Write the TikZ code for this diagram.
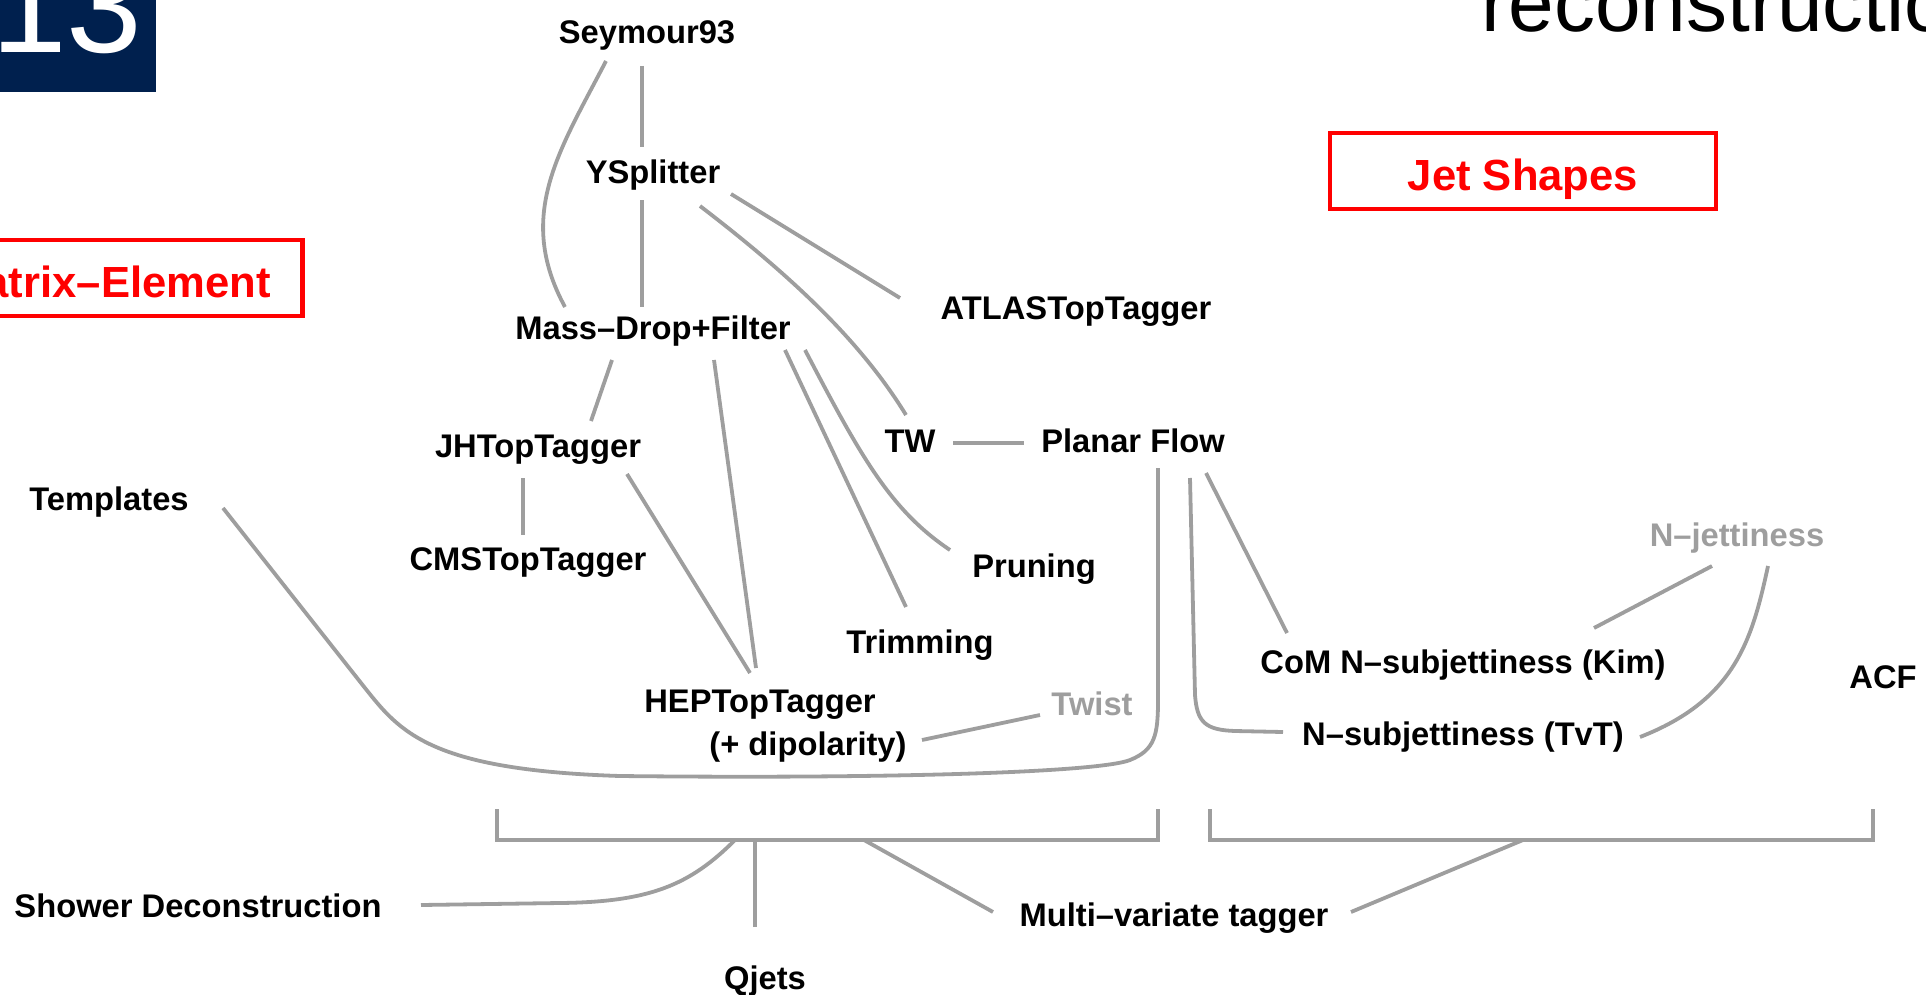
\documentclass[tikz,border=0pt]{standalone}
\usepackage{fontspec}
\setmainfont{Liberation Sans}
\newfontfamily\slidefont{Liberation Sans}
\usepackage{xcolor}
\usepackage{tikz}
\usetikzlibrary{calc}
\definecolor{linkgray}{RGB}{158,158,158}
\definecolor{titlenavy}{RGB}{0,32,78}
\tikzset{
  tag/.style={font=\fontsize{32.7}{39}\selectfont\bfseries, inner sep=4pt, text height=24pt, text depth=8pt},
  faint/.style={tag, text=linkgray},
  cat/.style={rectangle, draw=red, line width=4.5pt, text=red, font=\fontsize{43.6}{52}\selectfont\bfseries, minimum width=386pt, minimum height=76pt, inner sep=0pt, text height=38pt, text depth=0pt},
  link/.style={draw=linkgray, line width=3.8pt}
}

\begin{document}
\begin{tikzpicture}[x=1pt, y=-1pt]
  \useasboundingbox (0,0) rectangle (1926,995);
  \clip (0,0) rectangle (1926,995);
  \fill[titlenavy] (0,0) rectangle (156,92);
  \node[anchor=base west, inner sep=0pt, text=white, font=\slidefont\fontsize{136}{136}\selectfont] (slidenum) at (-9,53) {13};
  \node[anchor=base west, inner sep=0pt, font=\slidefont\fontsize{82}{82}\selectfont] (headline) at (1481,32) {reconstructio};

  \node[cat] (matrix) at (109.5,278) {Matrix--Element};
  \node[cat] (jetshapes) at (1523,171) {Jet Shapes};

  \node[tag] (seymour) at (647,36) {Seymour93};
  \node[tag] (ysplit) at (653,176) {YSplitter};
  \node[tag] (atlas) at (1076,311) {ATLASTopTagger};
  \node[tag] (massdrop) at (653,331) {Mass--Drop+Filter};
  \node[tag] (jh) at (538,449) {JHTopTagger};
  \node[tag] (tw) at (910,444) {TW};
  \node[tag] (planar) at (1133,444) {Planar Flow};
  \node[tag] (templates) at (109,502) {Templates};
  \node[tag] (cms) at (528,562) {CMSTopTagger};
  \node[tag] (pruning) at (1034,569) {Pruning};
  \node[faint] (njet) at (1737,538) {N--jettiness};
  \node[tag] (trimming) at (920,645) {Trimming};
  \node[tag] (com) at (1463,665) {CoM N--subjettiness (Kim)};
  \node[tag] (hep) at (760,704) {HEPTopTagger};
  \node[tag] (dipol) at (808,747) {(+ dipolarity)};
  \node[faint] (twist) at (1092,707) {Twist};
  \node[tag] (tvt) at (1463,737) {N--subjettiness (TvT)};
  \node[tag] (acf) at (1883,680) {ACF};
  \node[tag] (shower) at (198,909) {Shower Deconstruction};
  \node[tag] (multi) at (1174,918) {Multi--variate tagger};
  \node[tag] (qjets) at (765,981) {Qjets};

  \coordinate (hl) at (497,809);
  \coordinate (hr) at (1158,809);
  \coordinate (sl) at (1210,809);
  \coordinate (sr) at (1873,809);
  \coordinate (jshower) at (735,840);
  \coordinate (jqjets) at (755,840);
  \coordinate (jmvl) at (864,840);
  \coordinate (jmvr) at (1523,840);

  \draw[link] (hl) -- ++(0,31) -| (hr);
  \draw[link] (sl) -- ++(0,31) -| (sr);

  \draw[link] ($(seymour)+(-41,25)$) .. controls (560,150) and (515,215) .. ($(massdrop)+(-88,-24)$);
  \draw[link] ($(seymour)+(-5,30)$) -- ($(ysplit)+(-11,-29)$);
  \draw[link] ($(ysplit)+(-11,24)$) -- ($(massdrop)+(-11,-24)$);
  \draw[link] ($(ysplit)+(78,18)$) -- ($(atlas)+(-176,-13)$);
  \draw[link] ($(ysplit)+(47,30)$) .. controls (790,275) and (860,340) .. ($(tw)+(-4,-29)$);
  \draw[link] ($(massdrop)+(-41,29)$) -- ($(jh)+(53,-28)$);
  \draw[link] ($(massdrop)+(61,29)$) -- ($(hep)+(-4,-36)$);
  \draw[link] ($(jh)+(89,25)$) -- ($(hep)+(-10,-31)$);
  \draw[link] ($(massdrop)+(132,19)$) -- ($(trimming)+(-14,-38)$);
  \draw[link] ($(massdrop)+(152,19)$) .. controls (860,455) and (890,510) .. ($(pruning)+(-84,-19)$);
  \draw[link] ($(jh)+(-15,29)$) -- ($(cms)+(-5,-27)$);
  \draw[link] ($(tw)+(43,-1)$) -- ($(planar)+(-109,-1)$);
  \draw[link] ($(dipol)+(114,-7)$) -- ($(twist)+(-52,8)$);
  \draw[link] ($(templates)+(114,6)$) -- (365,688) .. controls (400,732) and (430,770) .. (620,776)
    .. controls (900,779) and (1100,772) .. (1130,760) .. controls (1155,750) and (1158,735) .. (1158,700)
    -- ($(planar)+(25,24)$);
  \draw[link] ($(planar)+(57,34)$) -- (1195,695) .. controls (1197,722) and (1205,730) .. (1235,731) -- ($(tvt)+(-180,-5)$);
  \draw[link] ($(planar)+(73,29)$) -- ($(com)+(-176,-32)$);
  \draw[link] ($(njet)+(-25,28)$) -- ($(com)+(131,-37)$);
  \draw[link] ($(njet)+(31,28)$) .. controls (1752,640) and (1735,700) .. ($(tvt)+(177,0)$);

  \draw[link] ($(shower)+(223,-4)$) -- (560,903) .. controls (650,902) and (690,885) .. (jshower);
  \draw[link] ($(qjets)+(-10,-54)$) -- (jqjets);
  \draw[link] ($(multi)+(-181,-6)$) -- (jmvl);
  \draw[link] ($(multi)+(177,-6)$) -- (jmvr);
\end{tikzpicture}
\end{document}
